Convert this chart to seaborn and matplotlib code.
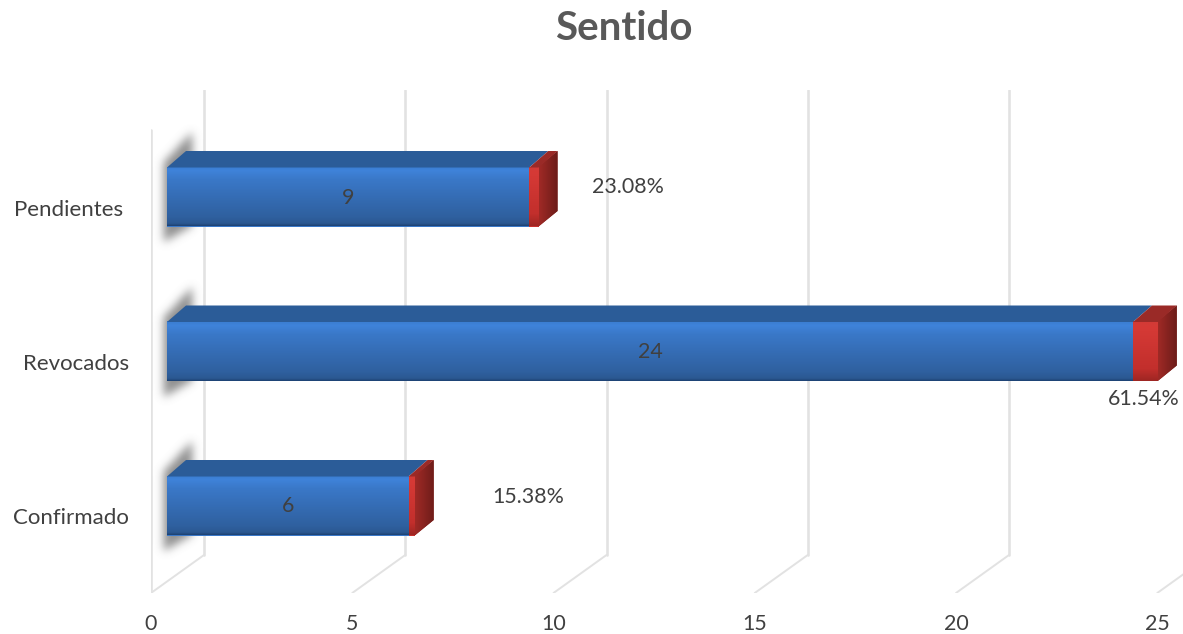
import matplotlib.pyplot as plt
import matplotlib.transforms as mtrans
import numpy as np
import pandas as pd
import seaborn as sns
from matplotlib.colors import LinearSegmentedColormap
from matplotlib.patches import Polygon

categories = ["Pendientes", "Revocados", "Confirmado"]
cases = [9, 24, 6]
shares = [0.2308, 0.6154, 0.1538]
share_labels = ["23.08%", "61.54%", "15.38%"]
x_ticks = [0, 5, 10, 15, 20, 25]

# pixel sizes of the figure and scale of the axes
W, H = 1183, 634
PX_X = 40.25   # pixels per unit on x
PX_Y = 154.5   # pixels between categories
LEFT, BOTTOM, TOP = 151, 593, 90

# fake 3d offsets, in data units
BAR_SHIFT = 16 / PX_X
BAR_DX = 19 / PX_X
BAR_DY = -15.5 / PX_Y
WALL_DX = 53 / PX_X
WALL_DY = -38 / PX_Y
BAR_HEIGHT = 60 / PX_Y

GRID = "#e2e2e2"
TEXT = "#404040"

BLUE_FRONT = LinearSegmentedColormap.from_list("bf", [
    (0, "#3a7ccf"), (0.07, "#3f83da"), (0.22, "#3a78c8"),
    (0.85, "#2f609f"), (0.96, "#2b5891"), (1, "#1d4272")])
RED_FRONT = LinearSegmentedColormap.from_list("rf", [
    (0, "#d23a36"), (0.1, "#d63a36"), (0.8, "#c22f2c"), (1, "#9e2623")])
RED_SIDE = LinearSegmentedColormap.from_list("rs", ["#a02a26", "#6c1c19"])

df = pd.DataFrame({"sentido": categories, "casos": cases, "porcentaje": shares})

sns.set_theme(style="white")
plt.rcParams["font.family"] = ["Lato", "DejaVu Sans"]

fig = plt.figure(figsize=(W / 100, H / 100), dpi=100)
ax = fig.add_axes([LEFT / W, 1 - BOTTOM / H, (W - LEFT) / W, (BOTTOM - TOP) / H])

sns.barplot(data=df, x="casos", y="sentido", order=categories, color="#3a78c8",
            saturation=1, width=BAR_HEIGHT, orient="h", ax=ax, zorder=3)
sns.barplot(data=df, x="porcentaje", y="sentido", order=categories, color="#c8302e",
            saturation=1, width=BAR_HEIGHT, orient="h", ax=ax, zorder=3)

y_top = -106.5 / PX_Y
y_bottom = (BOTTOM - 196.5) / PX_Y
x_right = (W - LEFT) / PX_X


def paint(cmap, extent, clip, horizontal=False):
    """Draw a gradient over extent, cut to the shape of clip."""
    ramp = np.linspace(0, 1, 128)
    ramp = ramp.reshape(1, -1) if horizontal else ramp.reshape(-1, 1)
    im = ax.imshow(ramp, cmap=cmap, extent=extent, aspect="auto", origin="upper",
                   zorder=3.2, interpolation="bilinear")
    im.set_clip_path(clip)


def shadow_image():
    """Blurred parallelogram that falls on the left wall, in pixels from the bar corner."""
    xs = np.arange(-22, 46)
    ys = np.arange(-60, 104)
    gx, gy = np.meshgrid(xs, ys)
    top = -4 - (gx + 3) * 30 / 28
    low = 76 - (gx + 3) * 16 / 28
    mask = ((gx >= -3) & (gx <= 25) & (gy >= top) & (gy <= low)).astype(float)
    kernel = np.exp(-np.arange(-14, 15) ** 2 / (2 * 4.5 ** 2))
    kernel /= kernel.sum()
    mask = np.apply_along_axis(np.convolve, 0, mask, kernel, mode="same")
    mask = np.apply_along_axis(np.convolve, 1, mask, kernel, mode="same")
    rgba = np.zeros(mask.shape + (4,))
    rgba[..., :3] = 0.48
    rgba[..., 3] = mask * 0.85
    return rgba, xs, ys


# back wall and floor lines
for tick in x_ticks:
    ax.plot([tick + WALL_DX] * 2, [y_top, y_bottom + WALL_DY], color=GRID, lw=1.9, zorder=1)
    ax.plot([tick, tick + WALL_DX], [y_bottom, y_bottom + WALL_DY], color=GRID, lw=1.4, zorder=1)
ax.plot([0, 0], [y_top + 40 / PX_Y, y_bottom], color=GRID, lw=1.9, zorder=1)

blue_bars, red_bars = ax.containers[0], ax.containers[1]
soft, soft_x, soft_y = shadow_image()
seam = 1 / PX_Y

for blue, red, n, label, share_pos in zip(
    blue_bars, red_bars, cases, share_labels,
    [(628, 187), (1144, 399), (528, 497)]
):
    y0, h = blue.get_y(), blue.get_height()
    x0 = BAR_SHIFT
    x1 = x0 + blue.get_width()
    x2 = x1 + red.get_width()
    blue.set_x(x0)
    red.set_x(x1)
    blue.set_linewidth(0)
    red.set_linewidth(0)

    ax.imshow(soft, aspect="auto", origin="upper", zorder=1.5, interpolation="bilinear",
              extent=(x0 + soft_x[0] / PX_X, x0 + soft_x[-1] / PX_X,
                      y0 + soft_y[-1] / PX_Y, y0 + soft_y[0] / PX_Y))

    ax.add_patch(Polygon([(x0, y0 + seam), (x1, y0 + seam), (x1 + BAR_DX, y0 + BAR_DY), (x0 + BAR_DX, y0 + BAR_DY)],
                         color="#2b5c98", lw=0, zorder=3.3))
    ax.add_patch(Polygon([(x1, y0 + seam), (x2, y0 + seam), (x2 + BAR_DX, y0 + BAR_DY), (x1 + BAR_DX, y0 + BAR_DY)],
                         color="#9a2a27", lw=0, zorder=3.3))
    side = Polygon([(x2, y0), (x2 + BAR_DX, y0 + BAR_DY), (x2 + BAR_DX, y0 + h + BAR_DY), (x2, y0 + h)],
                   color="#8a2420", lw=0, zorder=3)
    ax.add_patch(side)

    paint(BLUE_FRONT, (x0, x1, y0 + h, y0), blue)
    paint(RED_FRONT, (x1, x2, y0 + h, y0), red)
    paint(RED_SIDE, (x2, x2 + BAR_DX, y0 + h, y0 + BAR_DY), side, horizontal=True)

    ax.text(x0 + n / 2, y0 + h / 2 + 1 / PX_Y, str(n), ha="center", va="center",
            fontsize=15.4, color=TEXT, zorder=5)
    fig.text(share_pos[0] / W, 1 - share_pos[1] / H, label, ha="center", va="center",
             fontsize=15.4, color=TEXT, zorder=5)

ax.set_xlim(0, x_right)
ax.set_ylim(y_bottom, y_top)
ax.set_xticks(x_ticks)
ax.set_xlabel("")
ax.set_ylabel("")
ax.patch.set_alpha(0)
sns.despine(ax=ax, left=True, bottom=True)
ax.tick_params(axis="x", length=0, pad=15, labelsize=15.4, labelcolor=TEXT)
ax.tick_params(axis="y", length=0, pad=16, labelsize=16, labelcolor=TEXT)

for tick_label, nudge in zip(ax.get_yticklabels(), [6, 0, 0]):
    shift = mtrans.ScaledTranslation(-nudge / 100, -11 / 100, fig.dpi_scale_trans)
    tick_label.set_transform(tick_label.get_transform() + shift)

fig.text(624 / W, 1 - 29 / H, "Sentido", ha="center", va="center",
         fontsize=29, fontweight="bold", color="#595959")

fig.savefig("out.png", dpi=100)
plt.close(fig)
